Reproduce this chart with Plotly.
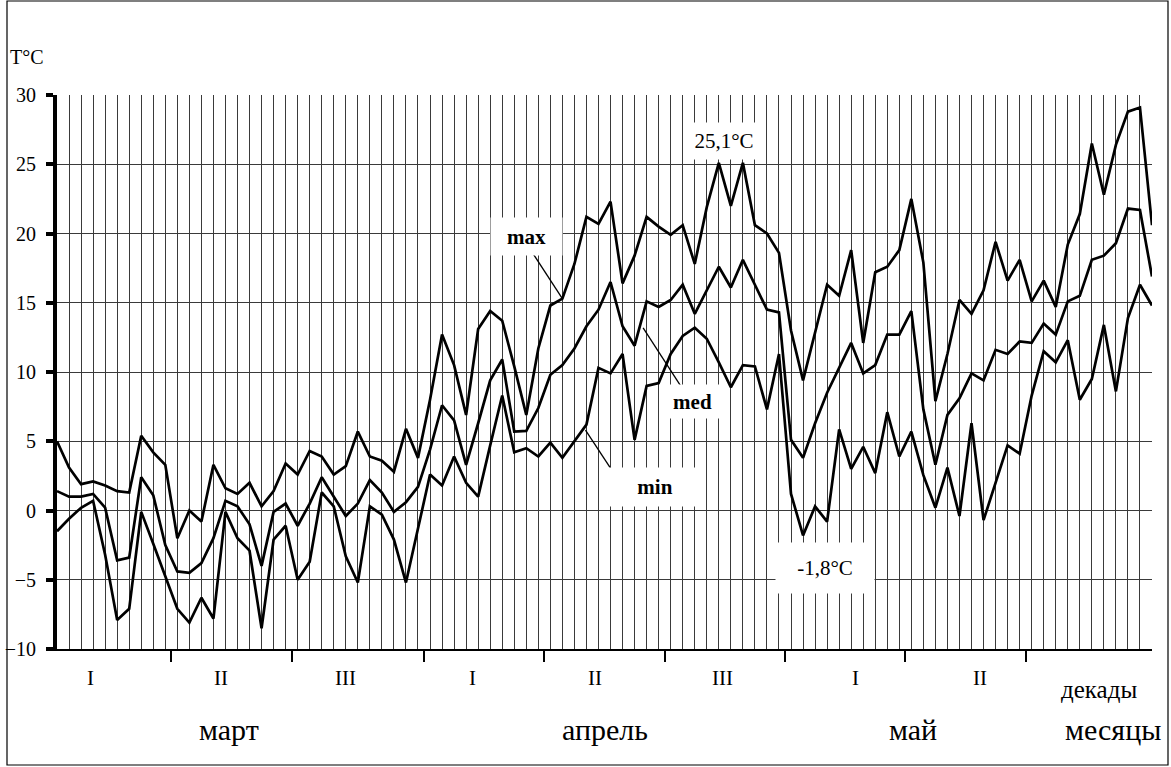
import plotly.graph_objects as go

# Daily air temperature, 1 March - 31 May (92 days)
days = list(range(92))

t_max = [5.0, 3.1, 1.9, 2.1, 1.8, 1.4, 1.3, 5.4, 4.2, 3.3,
         -2.0, 0.0, -0.8, 3.3, 1.6, 1.2, 2.0, 0.3, 1.4, 3.4,
         2.6, 4.3, 3.9, 2.6, 3.2, 5.7, 3.9, 3.6, 2.8, 5.9, 3.8,
         8.0, 12.7, 10.5, 6.9, 13.1, 14.4, 13.7, 10.4, 6.9, 11.7,
         14.8, 15.3, 17.8, 21.2, 20.7, 22.3, 16.4, 18.4, 21.2, 20.5,
         19.9, 20.6, 17.8, 21.9, 25.1, 22.0, 25.1, 20.6, 20.0, 18.6,
         13.0, 9.4, 12.8, 16.3, 15.5, 18.8, 12.1, 17.2, 17.6, 18.8,
         22.5, 17.9, 7.9, 11.3, 15.2, 14.2, 15.9, 19.4, 16.6, 18.1,
         15.1, 16.6, 14.7, 19.2, 21.4, 26.5, 22.8, 26.4, 28.8, 29.1, 20.6]

t_med = [1.4, 1.0, 1.0, 1.2, 0.2, -3.6, -3.4, 2.4, 1.1, -2.5,
         -4.4, -4.5, -3.8, -2.0, 0.7, 0.3, -1.0, -4.0, -0.1, 0.5,
         -1.1, 0.5, 2.4, 1.0, -0.4, 0.5, 2.2, 1.3, -0.1, 0.6, 1.7,
         4.4, 7.6, 6.5, 3.3, 6.3, 9.4, 10.9, 5.7, 5.75, 7.4,
         9.8, 10.5, 11.7, 13.3, 14.5, 16.5, 13.3, 11.9, 15.1, 14.7,
         15.2, 16.3, 14.2, 15.9, 17.6, 16.1, 18.1, 16.3, 14.5, 14.3,
         5.1, 3.8, 6.3, 8.5, 10.3, 12.1, 9.9, 10.5, 12.7, 12.7,
         14.4, 7.3, 3.3, 6.9, 8.1, 9.9, 9.4, 11.6, 11.3, 12.2,
         12.1, 13.5, 12.7, 15.1, 15.5, 18.1, 18.4, 19.3, 21.8, 21.7, 16.9]

t_min = [-1.5, -0.6, 0.2, 0.7, -3.2, -7.9, -7.1, -0.1, -2.4, -4.7,
         -7.1, -8.1, -6.3, -7.8, -0.1, -2.0, -2.9, -8.5, -2.1, -1.1,
         -5.0, -3.7, 1.3, 0.3, -3.3, -5.2, 0.3, -0.3, -2.1, -5.2, -1.2,
         2.6, 1.8, 3.9, 2.0, 1.0, 4.7, 8.3, 4.2, 4.5, 3.9,
         4.9, 3.8, 5.0, 6.2, 10.3, 9.9, 11.3, 5.1, 9.0, 9.2,
         11.3, 12.6, 13.2, 12.4, 10.7, 8.9, 10.5, 10.4, 7.3, 11.3,
         1.2, -1.8, 0.3, -0.8, 5.85, 3.0, 4.6, 2.7, 7.1, 3.9,
         5.7, 2.55, 0.2, 3.1, -0.4, 6.3, -0.7, 2.0, 4.7, 4.1,
         8.3, 11.5, 10.7, 12.3, 8.0, 9.5, 13.4, 8.6, 13.9, 16.3, 14.8]

y_ticks = [-10, -5, 0, 5, 10, 15, 20, 25, 30]

# decade boundaries (between day indices) and their labels
decade_bounds = [9.5, 19.5, 30.5, 40.5, 50.5, 60.5, 70.5, 80.5]
decade_labels = ["I", "II", "III", "I", "II", "III", "I", "II"]
decade_label_x = [2.8, 13.6, 24.0, 34.5, 44.7, 55.3, 66.4, 76.7]
month_labels = ["март", "апрель", "май"]
month_label_x = [14.3, 45.5, 71.1]

SERIF = "Liberation Serif, Times New Roman, serif"
W, H = 1171, 767
ML, MR, MT, MB = 57, 19, 95, 118
PW, PH = W - ML - MR, H - MT - MB


def px_to_paper(px, py):
    return (px - ML) / PW, (H - MB - py) / PH


fig = go.Figure()
for series in (t_max, t_med, t_min):
    fig.add_trace(go.Scatter(x=days, y=series, mode="lines",
                             line=dict(color="black", width=2.7),
                             showlegend=False, hoverinfo="skip"))

# helper trace on the decade axis so its ticks are rendered
fig.add_trace(go.Scatter(x=[0, 91], y=[-10, -10], xaxis="x2", mode="lines",
                         line=dict(width=0), opacity=0, showlegend=False,
                         hoverinfo="skip"))


def label(text, x, y, size, xref="x", yref="paper", **kw):
    return dict(text=text, x=x, y=y, xref=xref, yref=yref, showarrow=False,
                xanchor="center", yanchor="middle",
                font=dict(family=SERIF, size=size, color="black"), **kw)


annotations = []
for txt, x in zip(decade_labels, decade_label_x):
    annotations.append(label(txt, x, -0.053, 21))
annotations.append(label("декады", 86.6, -0.074, 25))
for txt, x in zip(month_labels, month_label_x):
    annotations.append(label(txt, x, -0.145, 30))
annotations.append(label("месяцы", 87.8, -0.145, 30))

tx, ty = px_to_paper(27, 57)
annotations.append(label("T°C", tx, ty, 20, xref="paper"))

# series labels in white boxes
boxed = [
    ("<b>max</b>", 39.0, 19.8, 71, 37),
    ("<b>med</b>", 52.8, 7.9, 61, 33),
    ("<b>min</b>", 49.7, 1.7, 92, 38),
    ("25,1°C", 55.47, 26.65, 62, 36),
    ("-1,8°C", 63.8, -4.15, 98, 50),
]
for txt, x, y, w, h in boxed:
    annotations.append(label(txt, x, y, 21, xref="x", yref="y",
                             bgcolor="white", borderpad=0, width=w, height=h))

# leader lines from labels to the curves
shapes = [
    dict(type="line", xref="x", yref="y", x0=39.6, y0=18.5, x1=42, y1=t_max[42],
         line=dict(color="black", width=1.3)),
    dict(type="line", xref="x", yref="y", x0=48.71, y0=13.19, x1=51.95, y1=8.84,
         line=dict(color="black", width=1.3)),
    dict(type="line", xref="x", yref="y", x0=43.92, y0=5.81, x1=46.49, y1=2.41,
         line=dict(color="black", width=1.3)),
]
bx0, by0 = px_to_paper(7, 765)
bx1, by1 = px_to_paper(1168, 1)
shapes.append(dict(type="rect", xref="paper", yref="paper",
                   x0=bx0, y0=by0, x1=bx1, y1=by1,
                   line=dict(color="black", width=1.2), layer="below"))

fig.update_layout(
    width=W, height=H,
    margin=dict(l=ML, r=MR, t=MT, b=MB, autoexpand=False),
    paper_bgcolor="white", plot_bgcolor="white",
    font=dict(family=SERIF, size=20, color="black"),
    xaxis=dict(range=[0, 91], tick0=0, dtick=1, showgrid=True,
               gridcolor="#3a3a3a", gridwidth=1, showticklabels=False,
               ticks="", zeroline=False, showline=True, linecolor="black",
               linewidth=2, automargin=False),
    xaxis2=dict(range=[0, 91], overlaying="x", anchor="y", side="bottom",
                tickmode="array", tickvals=decade_bounds, ticks="outside",
                ticklen=12, tickwidth=2, tickcolor="black",
                showticklabels=False, showgrid=False, zeroline=False,
                showline=False, automargin=False),
    yaxis=dict(range=[-10, 30], tickmode="array", tickvals=y_ticks,
               showgrid=True, gridcolor="#3a3a3a", gridwidth=1,
               zeroline=False, showline=True, linecolor="black", linewidth=4,
               ticks="outside", ticklen=7, tickwidth=4, tickcolor="black",
               tickfont=dict(family=SERIF, size=20), ticklabelstandoff=6,
               automargin=False),
    annotations=annotations,
    shapes=shapes,
)

fig.write_html("out.html")
